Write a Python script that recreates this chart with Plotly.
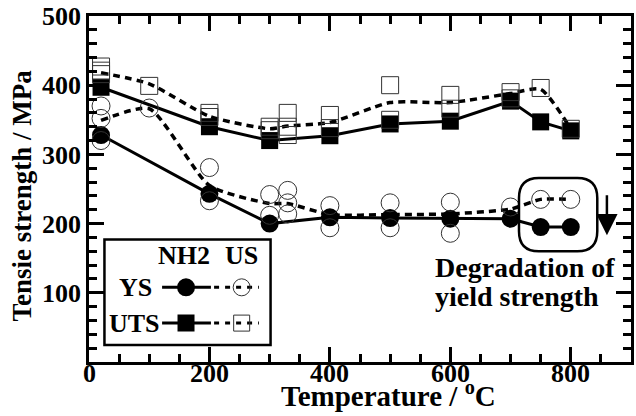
import plotly.graph_objects as go

# ---------------- data ----------------
nh2_T = [20, 200, 300, 400, 500, 600, 700, 750, 800]
nh2_ys = [328, 243, 200, 209, 208, 207, 207, 195, 195]
nh2_uts = [397, 340, 320, 327, 344, 348, 377, 347, 334]

us_ys_T = [20, 20, 20, 100, 200, 200, 300, 300, 330, 330, 330, 400, 400,
           500, 500, 600, 600, 700, 750, 800]
us_ys = [370, 352, 320, 367, 281, 233, 242, 212, 248, 230, 214, 226, 194,
         230, 194, 231, 186, 224, 235, 235]

us_uts_T = [20, 20, 20, 100, 200, 200, 300, 300, 330, 330, 330, 400, 400,
            500, 500, 600, 600, 700, 700, 750, 800]
us_uts = [427, 421, 416, 399, 360, 354, 340, 335, 360, 340, 328, 357, 338,
          400, 350, 386, 366, 390, 381, 396, 337]

us_line_T = [20, 100, 200, 300, 330, 400, 500, 600, 700, 750, 800]
us_ys_line = [349, 366, 255, 229, 229, 213, 213, 214, 221, 235, 235]
us_uts_line = [418, 402, 355, 337, 341, 346, 375, 375, 388, 394, 337]

x_ticks = [0, 200, 400, 600, 800]
y_ticks = [100, 200, 300, 400, 500]

FONT = "Liberation Serif, serif"
BLACK = "black"
MS = 18
DASH = "7px,5px"

fig = go.Figure()

# US dashed mean lines
for yv in (us_ys_line, us_uts_line):
    fig.add_trace(go.Scatter(x=us_line_T, y=yv, mode="lines",
                             line=dict(color=BLACK, width=3.5, dash=DASH,
                                       shape="spline", smoothing=0.6),
                             showlegend=False, hoverinfo="skip"))

# NH2 solid lines with filled markers
fig.add_trace(go.Scatter(x=nh2_T, y=nh2_ys, mode="lines+markers",
                         line=dict(color=BLACK, width=3),
                         marker=dict(symbol="circle", size=MS, color=BLACK),
                         showlegend=False))
fig.add_trace(go.Scatter(x=nh2_T, y=nh2_uts, mode="lines+markers",
                         line=dict(color=BLACK, width=3),
                         marker=dict(symbol="square", size=MS - 1, color=BLACK),
                         showlegend=False))

# US open markers
fig.add_trace(go.Scatter(x=us_ys_T, y=us_ys, mode="markers",
                         marker=dict(symbol="circle-open", size=MS, color="#333",
                                     line=dict(width=1)),
                         showlegend=False))
fig.add_trace(go.Scatter(x=us_uts_T, y=us_uts, mode="markers",
                         marker=dict(symbol="square-open", size=MS - 1, color="#333",
                                     line=dict(width=1)),
                         showlegend=False))

# ---------------- manual legend (own small axes) ----------------
lx0, lx1, ly0, ly1 = 0.0285, 0.335, 0.049, 0.354
for v, sym in ((0.547, "circle"), (0.208, "square")):
    fig.add_trace(go.Scatter(x=[0.347, 0.641], y=[v, v], mode="lines",
                             line=dict(color=BLACK, width=3),
                             xaxis="x2", yaxis="y2", showlegend=False))
    fig.add_trace(go.Scatter(x=[0.491], y=[v], mode="markers",
                             marker=dict(symbol=sym, size=MS if sym == "circle" else MS - 1,
                                         color=BLACK),
                             xaxis="x2", yaxis="y2", showlegend=False))
    fig.add_trace(go.Scatter(x=[0.66, 0.93], y=[v, v], mode="lines",
                             line=dict(color=BLACK, width=3, dash="5px,6px"),
                             xaxis="x2", yaxis="y2", showlegend=False))
    fig.add_trace(go.Scatter(x=[0.826], y=[v], mode="markers",
                             marker=dict(symbol=sym + "-open",
                                         size=MS - 1 if sym == "circle" else MS - 2,
                                         color="#333", line=dict(width=1)),
                             xaxis="x2", yaxis="y2", showlegend=False))

def tfont(size):
    return dict(family=FONT, size=size, color=BLACK, weight="bold")

ann = [
    dict(text="NH2", x=0.479, y=0.849, xref="x2", yref="y2", showarrow=False,
         font=tfont(26)),
    dict(text="US", x=0.826, y=0.849, xref="x2", yref="y2", showarrow=False,
         font=tfont(26)),
    dict(text="YS", x=0.30, y=0.547, xref="x2", yref="y2", showarrow=False,
         xanchor="right", font=tfont(26)),
    dict(text="UTS", x=0.345, y=0.208, xref="x2", yref="y2", showarrow=False,
         xanchor="right", font=tfont(26)),
    # axis titles
    dict(text="Tensie strength / MPa", x=0, xref="paper", y=0.481, yref="paper",
         xshift=-67, xanchor="center", yanchor="middle", textangle=-90,
         showarrow=False, font=tfont(27)),
    dict(text="Temperature / <sup>o</sup>C", x=0.552, xref="paper", y=0, yref="paper",
         xanchor="center", yanchor="middle", yshift=-32, showarrow=False,
         font=tfont(29)),
    # text annotation
    dict(text="Degradation of", x=571, y=137, xref="x", yref="y", xanchor="left",
         showarrow=False, font=tfont(28)),
    dict(text="yield strength", x=571, y=94, xref="x", yref="y", xanchor="left",
         showarrow=False, font=tfont(28)),
    # arrow
    dict(text="", x=860, y=183, ax=860, ay=243, xref="x", yref="y",
         axref="x", ayref="y", showarrow=True, arrowhead=2, arrowsize=1.7,
         arrowwidth=2.5, arrowcolor=BLACK),
]
# x tick labels placed just under the axis
for t in x_ticks:
    ann.append(dict(text=str(t), x=t, xref="x", y=0, yref="paper",
                    xanchor="center", yanchor="middle", yshift=-11,
                    showarrow=False, font=tfont(26)))

# rounded rectangle around the degraded points
x0, x1, y0, y1 = 714, 844, 160, 266
rx, ry = 33, 29
path = (f"M {x0+rx},{y1} L {x1-rx},{y1} Q {x1},{y1} {x1},{y1-ry} "
        f"L {x1},{y0+ry} Q {x1},{y0} {x1-rx},{y0} L {x0+rx},{y0} "
        f"Q {x0},{y0} {x0},{y0+ry} L {x0},{y1-ry} Q {x0},{y1} {x0+rx},{y1} Z")

shapes = [
    dict(type="path", path=path, xref="x", yref="y",
         line=dict(color=BLACK, width=2.5)),
    dict(type="rect", xref="paper", yref="paper", x0=lx0, x1=lx1, y0=ly0, y1=ly1,
         line=dict(color=BLACK, width=2.5)),
]

axis_common = dict(showline=True, linecolor=BLACK, linewidth=2.5, mirror="ticks",
                   ticks="inside", ticklen=15, tickwidth=2.5, tickcolor=BLACK,
                   showgrid=False, zeroline=False, tickfont=tfont(26))

fig.update_layout(
    width=636, height=416,
    margin=dict(l=89, r=2, t=15, b=54),
    paper_bgcolor="white", plot_bgcolor="white",
    xaxis=dict(range=[0, 900], tickmode="array", tickvals=x_ticks,
               showticklabels=False,
               minor=dict(tickvals=list(range(0, 901, 50)), ticks="inside",
                          ticklen=8, tickwidth=2.5, tickcolor=BLACK, showgrid=False),
               **axis_common),
    yaxis=dict(range=[0, 500], tickmode="array", tickvals=y_ticks,
               minor=dict(tickvals=list(range(0, 501, 20)), ticks="inside",
                          ticklen=8, tickwidth=2.5, tickcolor=BLACK, showgrid=False),
               **axis_common),
    xaxis2=dict(domain=[lx0, lx1], range=[0, 1], anchor="y2", visible=False,
                fixedrange=True),
    yaxis2=dict(domain=[ly0, ly1], range=[0, 1], anchor="x2", visible=False,
                fixedrange=True),
    annotations=ann,
    shapes=shapes,
    showlegend=False,
)

fig.write_html("out.html", config={"displayModeBar": False},
               post_script="document.body.style.margin='0';")
